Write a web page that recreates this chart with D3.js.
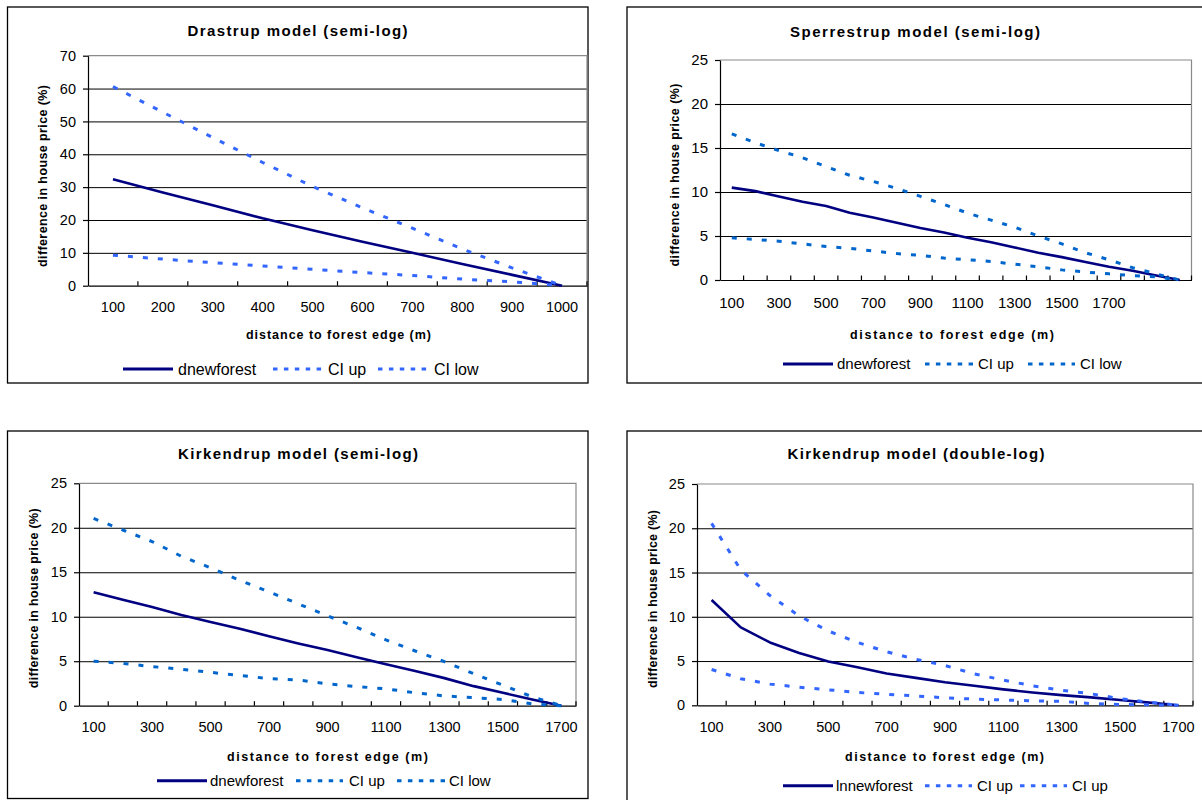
<!DOCTYPE html>
<html><head><meta charset="utf-8">
<script src="https://cdn.jsdelivr.net/npm/d3@7"></script>
<style>
html,body{margin:0;padding:0;background:#fff;}
svg{display:block;font-family:"Liberation Sans",Arial,Helvetica,sans-serif;}
</style></head><body>
<svg id="chart" width="1202" height="800"></svg>
<script>
// ---------- DATA ----------
// Drastrup model (semi-log)
const drastrupCats   = [100,200,300,400,500,600,700,800,900,1000];
const drastrupLabels = [100,200,300,400,500,600,700,800,900,1000];
const drastrupYTicks = [0,10,20,30,40,50,60,70];
const drastrupDnew   = [32.4,28.4,24.5,20.5,16.9,13.4,10.0,6.6,3.3,0];
const drastrupCIup   = [60.6,52.8,45.1,37.5,30.2,23.7,17.5,11.2,5.4,0];
const drastrupCIlow  = [9.3,8.1,7.0,6.0,5.0,4.0,3.1,2.0,1.2,0];

// Sperrestrup model (semi-log)
const sperCats   = [100,200,300,400,500,600,700,800,900,1000,1100,1200,1300,1400,1500,1600,1700,1800,1900,2000];
const sperLabels = [100,300,500,700,900,1100,1300,1500,1700];
const sperYTicks = [0,5,10,15,20,25];
const sperDnew   = [10.5,10.1,9.5,8.9,8.4,7.65,7.1,6.5,5.9,5.4,4.8,4.3,3.7,3.1,2.6,2.05,1.5,1.05,0.5,0];
const sperCIup   = [16.6,15.6,14.7,13.9,12.9,11.9,11.2,10.4,9.5,8.6,7.6,6.8,6.0,5.0,4.1,3.1,2.3,1.4,0.7,0];
const sperCIlow  = [4.8,4.6,4.4,4.1,3.8,3.6,3.3,3.0,2.8,2.5,2.3,2.1,1.8,1.5,1.15,0.9,0.7,0.5,0.35,0];

// Kirkendrup model (semi-log)
const kirkCats   = [100,200,300,400,500,600,700,800,900,1000,1100,1200,1300,1400,1500,1600,1700];
const kirkLabels = [100,300,500,700,900,1100,1300,1500,1700];
const kirkYTicks = [0,5,10,15,20,25];
const kirkSemiDnew  = [12.75,11.9,11.1,10.2,9.4,8.65,7.8,7.0,6.25,5.45,4.65,3.9,3.1,2.2,1.45,0.7,0];
const kirkSemiCIup  = [21.05,19.75,18.45,16.8,15.5,14.1,12.8,11.45,10.1,8.8,7.4,6.15,4.95,3.6,2.3,1.0,0];
const kirkSemiCIlow = [5.0,4.75,4.4,4.1,3.75,3.4,3.05,2.9,2.45,2.15,1.9,1.45,1.1,0.9,0.7,0.2,0];

// Kirkendrup model (double-log)
const kirkDblLnnew = [11.9,8.8,7.1,5.9,4.95,4.3,3.6,3.1,2.6,2.2,1.8,1.45,1.15,0.9,0.6,0.3,0];
const kirkDblCIup1 = [20.55,15.3,12.4,10.1,8.4,7.1,6.05,5.2,4.5,3.55,2.85,2.2,1.7,1.3,0.75,0.35,0];
const kirkDblCIup2 = [4.05,3.0,2.4,2.05,1.75,1.45,1.25,1.05,0.85,0.7,0.6,0.5,0.45,0.2,0.1,0.05,0];

const yAxisTitle = "difference in house price (%)";
const xAxisTitle = "distance to forest edge (m)";

// ---------- STYLE / LAYOUT ----------
const NAVY = "#000080", BRIGHT = "#3366FF", MID = "#0066CC";

const panels = [
  {
    title: "Drastrup model (semi-log)", cats: drastrupCats, labels: drastrupLabels, yTicks: drastrupYTicks, yMax: 70,
    series: [
      {name:"dnewforest", values: drastrupDnew, color: NAVY, solid:true},
      {name:"CI up", values: drastrupCIup, color: BRIGHT},
      {name:"CI low", values: drastrupCIlow, color: BRIGHT}
    ],
    frame:[7.5,7,580.5,376], L:88, R:587, T:55.7, B:285.7, tickFs:14.5, xPad:16,
    titleP:[297.5,36,220], xT:[338.5,338.5,185], yT:[43,176,182],
    legY:369, legFs:16, leg:[[123,173,178],[273,322,328],[378,428,434]]
  },
  {
    title: "Sperrestrup model (semi-log)", cats: sperCats, labels: sperLabels, yTicks: sperYTicks, yMax: 25,
    series: [
      {name:"dnewforest", values: sperDnew, color: NAVY, solid:true},
      {name:"CI up", values: sperCIup, color: MID},
      {name:"CI low", values: sperCIlow, color: MID}
    ],
    frame:[627,7,600,376], L:720, R:1191.5, T:60, B:280, tickFs:15, xPad:17.5,
    titleP:[915,36.5,250], xT:[952,338.5,204], yT:[675,175,183],
    legY:364, legFs:15, leg:[[783,833,837],[925,973,978],[1028,1075,1080]]
  },
  {
    title: "Kirkendrup model (semi-log)", cats: kirkCats, labels: kirkLabels, yTicks: kirkYTicks, yMax: 25,
    series: [
      {name:"dnewforest", values: kirkSemiDnew, color: NAVY, solid:true},
      {name:"CI up", values: kirkSemiCIup, color: MID},
      {name:"CI low", values: kirkSemiCIlow, color: MID}
    ],
    frame:[7.5,431,580.5,367.5], L:79, R:576, T:483.3, B:705.7, tickFs:14.5, xPad:16,
    titleP:[298,458.5,240], xT:[327.5,760.5,201], yT:[33.7,598.3,180],
    legY:780.7, legFs:15, leg:[[157,207,210],[296,343,349],[397,445,449]]
  },
  {
    title: "Kirkendrup model (double-log)", cats: kirkCats, labels: kirkLabels, yTicks: kirkYTicks, yMax: 25,
    series: [
      {name:"lnnewforest", values: kirkDblLnnew, color: NAVY, solid:true},
      {name:"CI up", values: kirkDblCIup1, color: BRIGHT},
      {name:"CI up", values: kirkDblCIup2, color: BRIGHT}
    ],
    frame:[627,431,600,400], L:697, R:1193, T:484, B:705.3, tickFs:14.5, xPad:16.5,
    titleP:[916,458.5,257], xT:[944.5,760.5,199], yT:[653,599,178],
    legY:785.7, legFs:15, leg:[[783,833,836],[925,972,977],[1020,1067,1072]]
  }
];

// ---------- DRAW ----------
const svg = d3.select("#chart");
svg.append("rect").attr("width",1202).attr("height",800).attr("fill","#fff");
const FONT = '"Liberation Sans", Arial, Helvetica, sans-serif';

panels.forEach(p => {
  const g = svg.append("g");
  g.append("rect").attr("x",p.frame[0]).attr("y",p.frame[1]).attr("width",p.frame[2]).attr("height",p.frame[3])
    .attr("fill","#fff").attr("stroke","#000").attr("stroke-width",1.3);

  const x = d3.scaleBand().domain(p.cats).range([p.L,p.R]).paddingInner(0).paddingOuter(0);
  const y = d3.scaleLinear().domain([0,p.yMax]).range([p.B,p.T]);
  const cx = c => x(c) + x.bandwidth()/2;

  // gridlines
  g.append("g").attr("transform",`translate(${p.L},0)`)
    .call(d3.axisLeft(y).tickValues(p.yTicks.filter(v => v>0 && v<p.yMax)).tickSize(-(p.R-p.L)).tickFormat(""))
    .call(a => a.select(".domain").remove())
    .selectAll("line").attr("stroke","#000").attr("stroke-width",1);

  // plot area border (top / right)
  g.append("path").attr("d",`M${p.L},${y(p.yMax)}H${p.R}V${y(0)}`)
    .attr("fill","none").attr("stroke","#8a8a8a").attr("stroke-width",1.2);

  // y axis
  const ya = g.append("g").attr("transform",`translate(${p.L},0)`)
    .call(d3.axisLeft(y).tickValues(p.yTicks).tickSize(5).tickSizeOuter(0).tickPadding(7));
  ya.attr("font-family",FONT).attr("font-size",p.tickFs);
  ya.select(".domain").attr("stroke","#000").attr("stroke-width",1.2);
  ya.selectAll("line").attr("stroke","#000").attr("stroke-width",1.2);
  ya.selectAll("text").attr("fill","#000");

  // x axis (labels + axis line)
  const xa = g.append("g").attr("transform",`translate(0,${p.B})`)
    .call(d3.axisBottom(x).tickValues(p.labels).tickSize(0).tickSizeOuter(0).tickPadding(p.xPad));
  xa.attr("font-family",FONT).attr("font-size",p.tickFs);
  xa.select(".domain").attr("stroke","#000").attr("stroke-width",1.2);
  xa.selectAll("text").attr("fill","#000");

  // x tick marks at category boundaries (pointing up)
  const bounds = p.cats.slice(1).map(c => x(c)).concat([x.range()[1]]);
  g.append("g").selectAll("line").data(bounds).join("line")
    .attr("x1",d=>d).attr("x2",d=>d).attr("y1",p.B).attr("y2",p.B-4.5)
    .attr("stroke","#000").attr("stroke-width",1.2);

  // series
  const line = d3.line().x((d,i) => cx(p.cats[i])).y(d => y(d));
  p.series.forEach(s => {
    g.append("path").datum(s.values).attr("d",line).attr("fill","none")
      .attr("stroke",s.color).attr("stroke-width", s.solid ? 2.6 : 3)
      .attr("stroke-dasharray", s.solid ? null : "5,10")
      .attr("stroke-linejoin","round");
  });

  // title
  g.append("text").attr("x",p.titleP[0]).attr("y",p.titleP[1]).attr("text-anchor","middle")
    .attr("font-family",FONT).attr("font-weight","bold").attr("font-size",15)
    .attr("textLength",p.titleP[2]).attr("lengthAdjust","spacing").text(p.title);

  // x axis title
  g.append("text").attr("x",p.xT[0]).attr("y",p.xT[1]).attr("text-anchor","middle")
    .attr("font-family",FONT).attr("font-weight","bold").attr("font-size",12.5)
    .attr("textLength",p.xT[2]).attr("lengthAdjust","spacing").text(xAxisTitle);

  // y axis title
  g.append("text").attr("transform",`translate(${p.yT[0]},${p.yT[1]}) rotate(-90)`)
    .attr("text-anchor","middle").attr("dy","0.33em")
    .attr("font-family",FONT).attr("font-weight","bold").attr("font-size",12.5)
    .attr("textLength",p.yT[2]).attr("lengthAdjust","spacing").text(yAxisTitle);

  // legend
  p.series.forEach((s,i) => {
    const [x1,x2,tx] = p.leg[i];
    g.append("line").attr("x1",x1).attr("x2",x2).attr("y1",p.legY).attr("y2",p.legY)
      .attr("stroke",s.color).attr("stroke-width",3)
      .attr("stroke-dasharray", s.solid ? null : "4.5,6.4");
    g.append("text").attr("x",tx).attr("y",p.legY).attr("dy","0.36em")
      .attr("font-family",FONT).attr("font-size",p.legFs).attr("fill","#000").text(s.name);
  });
});
</script>
</body></html>
